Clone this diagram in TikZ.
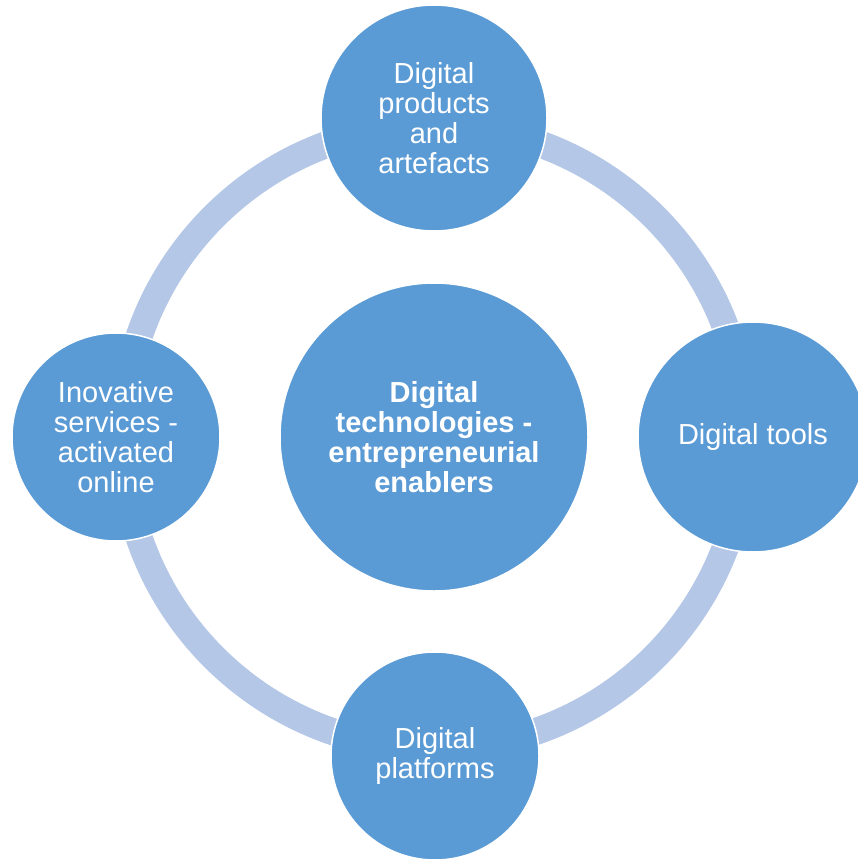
\documentclass[tikz,border=0pt]{standalone}
\usepackage{fontspec}
\setmainfont{Liberation Sans}
\definecolor{hubblue}{HTML}{5B9BD5}
\definecolor{ringblue}{HTML}{B4C7E7}
\begin{document}
\begin{tikzpicture}[x=1pt,y=-1pt,
  bubble/.style={circle,fill=hubblue,draw=white,line width=1.5pt,inner sep=0pt,
    text=white,align=center,font=\fontsize{29}{30}\selectfont},
  ringline/.style={draw=ringblue,line width=27pt}]
  \useasboundingbox (0,0) rectangle (858,859);
  \clip (0,0) rectangle (858,859);
  % cycle ring behind the bubbles
  \coordinate (hub) at (434,437);
  \draw[ringline] (hub) circle[radius=311.5];
  % central bubble
  \node[bubble,minimum size=308pt,font=\fontsize{29}{30}\selectfont\bfseries] (c) at (434,437)
    {Digital\\technologies -\\entrepreneurial\\enablers};
  % outer bubbles
  \node[bubble,minimum size=226pt] (top) at (434,118)
    {Digital\\products\\and\\artefacts};
  \node[bubble,minimum size=230pt] (right) at (753,437) {Digital tools};
  \node[bubble,minimum size=208pt] (bottom) at (435,756) {Digital\\platforms};
  \node[bubble,minimum size=208pt] (left) at (116,437)
    {Inovative\\services -\\activated\\online};
\end{tikzpicture}
\end{document}
